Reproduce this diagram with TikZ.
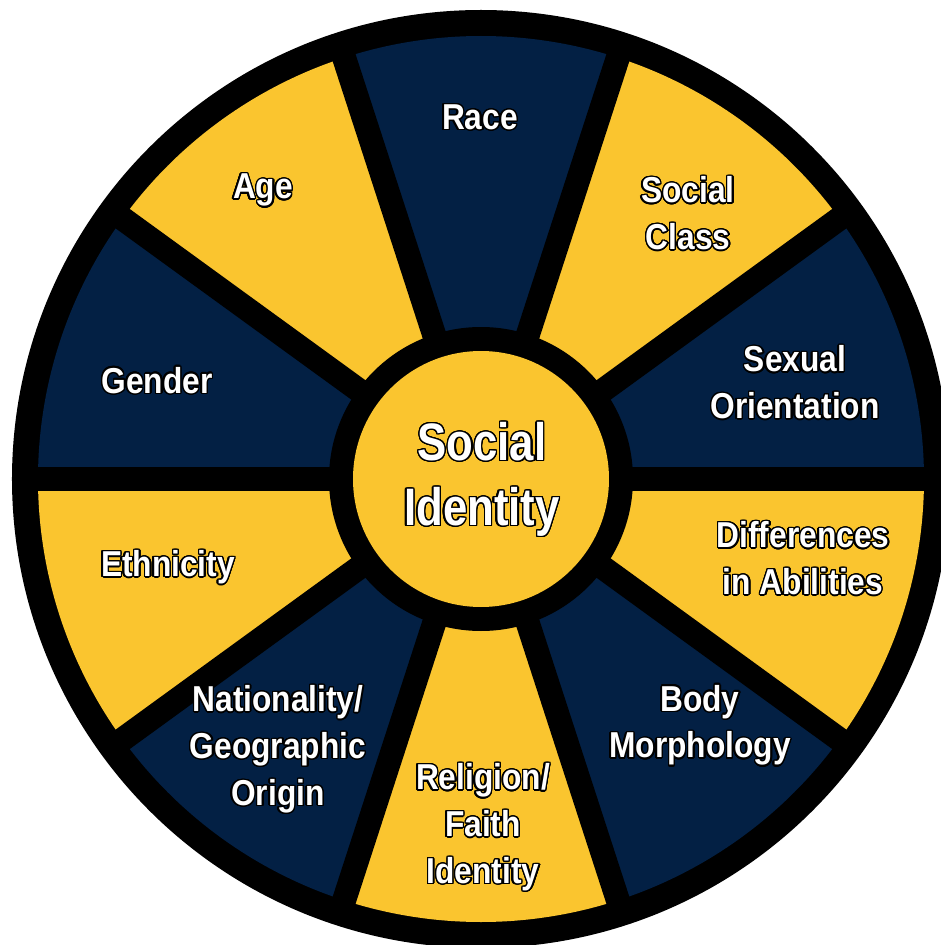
\documentclass[tikz,border=0pt]{standalone}
\usepackage{fontspec}
\newfontfamily\wheelfont[FakeStretch=0.88]{Liberation Sans}
\newfontfamily\hubfont[FakeStretch=0.83]{Liberation Sans}
\usepackage[copies]{contour}
\contourlength{0.8pt}
\contournumber{24}
\definecolor{wheelnavy}{RGB}{3,32,68}
\definecolor{wheelgold}{RGB}{250,197,47}
\newcommand{\outl}[1]{\contour{black}{#1}}

\begin{document}
\begin{tikzpicture}

	\tikzstyle{every node}=[font=\wheelfont\bfseries\fontsize{20.5}{26.7}\selectfont, text=white, align=center]
	\useasboundingbox (-9.62,-9.32) rectangle (9.2,9.58);

	\begin{scope}
	\clip (-9.62,-9.32) rectangle (9.2,9.58);
	\fill[black] (0,0) circle (9.38);
	\end{scope}

	% slices
	\foreach \a/\c in {0/wheelnavy,36/wheelgold,72/wheelnavy,108/wheelgold,144/wheelnavy,180/wheelgold,216/wheelnavy,252/wheelgold,288/wheelnavy,324/wheelgold}
		\fill[\c] (0,0) -- (\a:8.86) arc (\a:\a+36:8.86) -- cycle;

	\foreach \a in {0,36,...,324}
		\draw[black, line width=0.48cm] (0,0) -- (\a:9);

	\fill[black] (0,0) circle (3.04);
	\fill[wheelgold] (0,0) circle (2.56);

	\node (race) at (-0.02,7.22) {\outl{Race}};
	\node (class) at (4.14,5.30) {\outl{Social}\\\outl{Class}};
	\node (age) at (-4.36,5.76) {\outl{Age}};
	\node (sexual) at (6.28,1.92) {\outl{Sexual}\\\outl{Orientation}};
	\node (gender) at (-6.48,1.96) {\outl{Gender}};
	\node (ethnic) at (-6.26,-1.78) {\outl{Ethnicity}};
	\node (abil) at (6.44,-1.60) {\outl{Differences}\\\outl{in Abilities}};
	\node (nation) at (-4.06,-5.42) {\outl{Nationality/}\\\outl{Geographic}\\\outl{Origin}};
	\node (relig) at (0.04,-6.98) {\outl{Religion/}\\\outl{Faith}\\\outl{Identity}};
	\node (body) at (4.38,-4.94) {\outl{Body}\\\outl{Morphology}};

	\node[font=\hubfont\bfseries\fontsize{30}{37}\selectfont] (ident) at (0.02,-0.02) {\outl{Social}\\\outl{Identity}};

\end{tikzpicture}
\end{document}
